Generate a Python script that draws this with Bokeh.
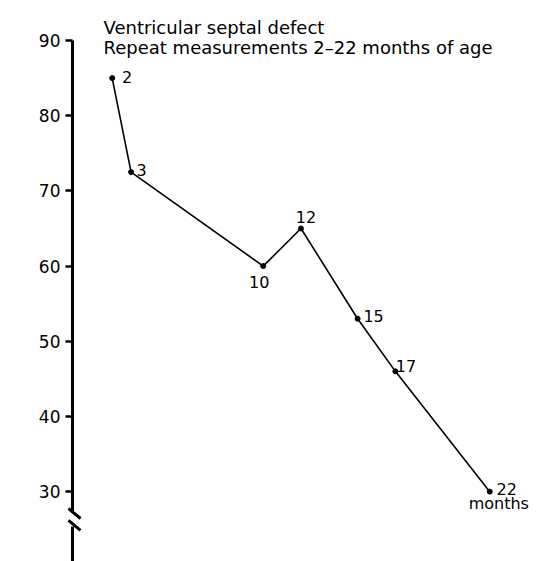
from bokeh.plotting import figure
from bokeh.models import Label, FixedTicker, Range1d
from bokeh.core.properties import value
from bokeh.embed import file_html
from bokeh.resources import INLINE
import math

# ---- data ----
months = [2, 3, 10, 12, 15, 17, 22]
mmhg = [85, 72.5, 60, 65, 53, 46, 30]
point_labels = ["2", "3", "10", "12", "15", "17", "22"]
y_ticks = [30, 40, 50, 60, 70, 80, 90]
title_lines = ["Ventricular  septal defect",
               "Repeat measurements 2\u201322 months of age"]
unit_label = "months"
y_label = "mmHg"

# ---- styling / layout ----
FONT = "DejaVu Sans"
label_dx = [15, 10.5, -4, 5, 16, 10.5, 17]
label_dy = [-1, -2.5, 15.5, -11, -3, -5, -3]

X0, X1 = -0.103, 24.74
Y0, Y1 = 20.71, 95.32

p = figure(width=541, height=561, output_backend="svg", toolbar_location=None,
           x_range=Range1d(X0, X1), y_range=Range1d(Y0, Y1),
           min_border_left=72, min_border_right=0, min_border_top=0,
           min_border_bottom=0, x_axis_location=None)
p.outline_line_color = None
p.grid.visible = False
p.background_fill_color = "white"
p.border_fill_color = "white"

ax = p.yaxis[0]
ax.ticker = FixedTicker(ticks=y_ticks)
ax.bounds = (27.23, 90)
ax.axis_line_width = 3
ax.axis_line_color = "black"
ax.major_tick_line_width = 2.5
ax.major_tick_out = 7
ax.major_tick_in = 0
ax.minor_tick_line_color = None
ax.major_label_text_font = FONT
ax.major_label_text_font_size = "17px"
ax.major_label_text_color = "black"
ax.major_label_standoff = 5

# lower piece of the broken axis and the break marks (decoration)
p.segment(x0=[X0], y0=[25.36], x1=[X0], y1=[Y0], line_width=3, color="black",
          level="overlay")
p.segment(x0=[X0 - 0.212, X0 - 0.212], y0=[27.76, 26.17],
          x1=[X0 + 0.424, X0 + 0.424], y1=[26.43, 24.84],
          line_width=3, color="black", level="overlay")

# data line and points
p.line(months, mmhg, line_width=1.6, color="black")
p.scatter(months, mmhg, size=5, color="black")

p.text(x=months, y=mmhg, text=point_labels, x_offset=label_dx, y_offset=label_dy,
       text_font=value(FONT), text_font_size="16px", text_align="center",
       text_baseline="middle", text_color="black", level="overlay")
p.text(x=[months[-1]], y=[mmhg[-1]], text=[unit_label], x_offset=[9], y_offset=[11.5],
       text_font=value(FONT), text_font_size="16px", text_align="center",
       text_baseline="middle", text_color="black", level="overlay")

# title
for i, t in enumerate(title_lines):
    p.add_layout(Label(x=1.54, y=[91.7, 89.07][i], text=t, text_font=FONT,
                       text_font_size="18px", text_align="left",
                       text_baseline="alphabetic", text_color="black"))

# y axis label
p.add_layout(Label(x=X0 - (52 / 18.88), y=55.3, text=y_label, angle=math.pi / 2,
                   text_font=FONT, text_font_size="17px", text_align="center",
                   text_baseline="middle", text_color="black"))

open("out.html", "w").write(file_html(p, INLINE))
